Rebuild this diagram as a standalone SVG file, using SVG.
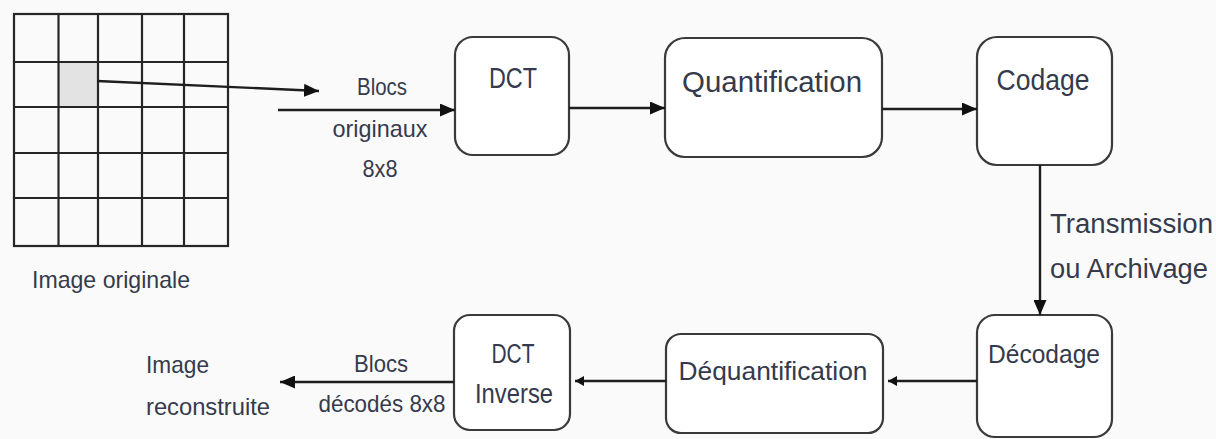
<svg xmlns="http://www.w3.org/2000/svg" width="1216" height="439" viewBox="0 0 1216 439">
  <style>
    .box { fill: #ffffff; stroke: #3a3a3a; stroke-width: 2.2; }
    .grid { fill: none; stroke: #262626; stroke-width: 2.2; }
    .wire { fill: none; stroke: #1e1e1e; stroke-width: 2.4; }
    .lbl { font-family: "Liberation Sans", Arial, sans-serif; fill: #353a4c; }
    .t29 { font-size: 29px; }
    .t27 { font-size: 27px; }
    .t26 { font-size: 26px; }
    .t24 { font-size: 24px; }
    .mid { text-anchor: middle; }
  </style>
  <defs>
    <marker id="head" markerUnits="userSpaceOnUse" markerWidth="15" markerHeight="13" refX="15" refY="6.5" orient="auto">
      <path d="M0,0 L15,6.5 L0,13 z" fill="#111"/>
    </marker>
    <marker id="headSmall" markerUnits="userSpaceOnUse" markerWidth="9" markerHeight="10" refX="9" refY="5" orient="auto">
      <path d="M0,0 L9,5 L0,10 z" fill="#111"/>
    </marker>
  </defs>

  <rect x="0" y="0" width="1216" height="439" fill="#fafafa"/>

  <!-- source picture split into blocks -->
  <g id="image-originale">
    <rect x="59" y="62" width="39" height="45" fill="#e3e3e3"/>
    <rect class="grid" x="14" y="14" width="214" height="232"/>
    <path class="grid" d="M58.5,14 V246 M98,14 V246 M142,14 V246 M184,14 V246 M14,62 H228 M14,107 H228 M14,153 H228 M14,198 H228"/>
    <text class="lbl t24" x="32" y="288" textLength="158" lengthAdjust="spacingAndGlyphs">Image originale</text>
  </g>

  <g id="blocs-originaux">
    <text class="lbl t24 mid" x="382" y="95" textLength="50" lengthAdjust="spacingAndGlyphs">Blocs</text>
    <text class="lbl t24 mid" x="380" y="137" textLength="95" lengthAdjust="spacingAndGlyphs">originaux</text>
    <text class="lbl t24 mid" x="380" y="177" textLength="35" lengthAdjust="spacingAndGlyphs">8x8</text>
  </g>

  <g id="dct">
    <rect class="box" x="455" y="37" width="114" height="118" rx="18"/>
    <text class="lbl t29 mid" x="513" y="88" textLength="48" lengthAdjust="spacingAndGlyphs">DCT</text>
  </g>

  <g id="quantification">
    <rect class="box" x="665" y="38" width="217" height="119" rx="20"/>
    <text class="lbl t29 mid" x="772" y="92" textLength="180" lengthAdjust="spacingAndGlyphs">Quantification</text>
  </g>

  <g id="codage">
    <rect class="box" x="977" y="37" width="135" height="128" rx="20"/>
    <text class="lbl t29 mid" x="1043" y="90" textLength="93" lengthAdjust="spacingAndGlyphs">Codage</text>
  </g>

  <g id="transmission">
    <text class="lbl t27" x="1050" y="233" textLength="163" lengthAdjust="spacingAndGlyphs">Transmission</text>
    <text class="lbl t27" x="1050" y="278" textLength="158" lengthAdjust="spacingAndGlyphs">ou Archivage</text>
  </g>

  <g id="decodage">
    <rect class="box" x="977" y="315" width="135" height="122" rx="18"/>
    <text class="lbl t26 mid" x="1044" y="363" textLength="112" lengthAdjust="spacingAndGlyphs">Décodage</text>
  </g>

  <g id="dequantification">
    <rect class="box" x="666" y="334" width="217" height="99" rx="15"/>
    <text class="lbl t26 mid" x="773" y="380" textLength="189" lengthAdjust="spacingAndGlyphs">Déquantification</text>
  </g>

  <g id="dct-inverse">
    <rect class="box" x="454" y="315" width="116" height="115" rx="16"/>
    <text class="lbl t27 mid" x="513" y="363" textLength="43" lengthAdjust="spacingAndGlyphs">DCT</text>
    <text class="lbl t27 mid" x="514" y="403" textLength="78" lengthAdjust="spacingAndGlyphs">Inverse</text>
  </g>

  <g id="blocs-decodes">
    <text class="lbl t24 mid" x="381" y="372" textLength="54" lengthAdjust="spacingAndGlyphs">Blocs</text>
    <text class="lbl t24 mid" x="382" y="412" textLength="127" lengthAdjust="spacingAndGlyphs">décodés 8x8</text>
  </g>

  <g id="image-reconstruite">
    <text class="lbl t24" x="146" y="373" textLength="63" lengthAdjust="spacingAndGlyphs">Image</text>
    <text class="lbl t24" x="146" y="415" textLength="124" lengthAdjust="spacingAndGlyphs">reconstruite</text>
  </g>

  <!-- connectors -->
  <g id="connectors">
    <path class="wire" d="M97,81 L319,91" marker-end="url(#head)"/>
    <path class="wire" d="M278,110 H455" marker-end="url(#head)"/>
    <path class="wire" d="M569,108 H665" marker-end="url(#head)"/>
    <path class="wire" d="M882,109 H977" marker-end="url(#head)"/>
    <path class="wire" d="M1040,165 V315" marker-end="url(#head)"/>
    <path class="wire" d="M977,381 H888" marker-end="url(#headSmall)"/>
    <path class="wire" d="M666,381 H575" marker-end="url(#headSmall)"/>
    <path class="wire" d="M454,382 H280" marker-end="url(#head)"/>
  </g>
</svg>
